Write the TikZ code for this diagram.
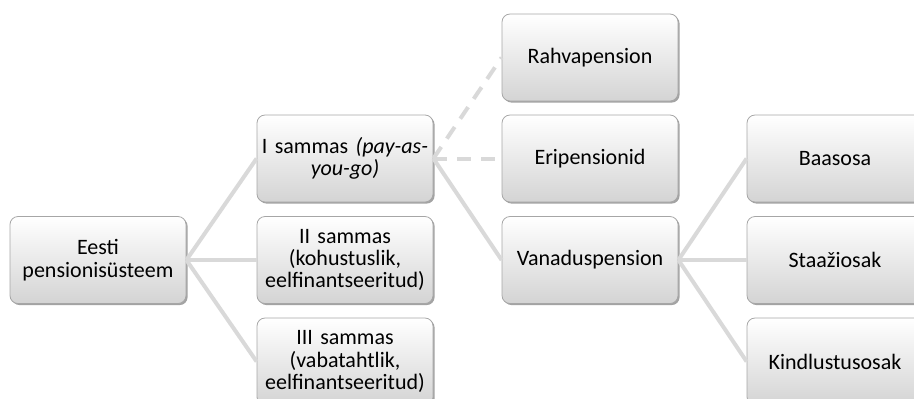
\documentclass[tikz,border=0pt]{standalone}
\usepackage{fontspec}
\setmainfont{Carlito}
\usetikzlibrary{shadows}

\begin{document}
\begin{tikzpicture}[x=0.5pt,y=-0.5pt]
\tikzset{
  pbox/.style={rectangle,rounded corners=4pt,draw=black!35,top color=white,bottom color=black!17,
    drop shadow={shadow xshift=0.8pt,shadow yshift=-0.8pt,fill=black!45,opacity=0.8},
    minimum width=88pt,minimum height=43.5pt,text width=84pt,align=center,inner sep=1pt,
    font=\fontsize{11}{11.2}\selectfont},
  link/.style={draw=black!15,line width=2pt},
  dlink/.style={link,dash pattern=on 7pt off 5pt}
}
\clip (0,0) rectangle (914,398);
\node[pbox] (n_pens) at (98,260) {Eesti\\pensionisüsteem};
\node[pbox] (n_s1) at (345,158.5) {I sammas \textit{(pay-as-}\\\textit{you-go)}};
\node[pbox] (n_s2) at (345,260) {II sammas\\(kohustuslik,\\eelfinantseeritud)};
\node[pbox] (n_s3) at (345,361.5) {III sammas\\(vabatahtlik,\\eelfinantseeritud)};
\node[pbox] (n_rahva) at (590,57.5) {Rahvapension};
\node[pbox] (n_eri) at (590,158.5) {Eripensionid};
\node[pbox] (n_vana) at (590,260) {Vanaduspension};
\node[pbox] (n_baas) at (835,158.5) {Baasosa};
\node[pbox] (n_staaz) at (835,260) {Staažiosak};
\node[pbox] (n_kindl) at (835,361.5) {Kindlustusosak};
\draw[link] (n_pens.east) -- (n_s1.west);
\draw[link] (n_pens.east) -- (n_s2.west);
\draw[link] (n_pens.east) -- (n_s3.west);
\draw[dlink] (n_s1.east) -- (n_rahva.west);
\draw[dlink] (n_s1.east) -- (n_eri.west);
\draw[link] (n_s1.east) -- (n_vana.west);
\draw[link] (n_vana.east) -- (n_baas.west);
\draw[link] (n_vana.east) -- (n_staaz.west);
\draw[link] (n_vana.east) -- (n_kindl.west);
\end{tikzpicture}
\end{document}
